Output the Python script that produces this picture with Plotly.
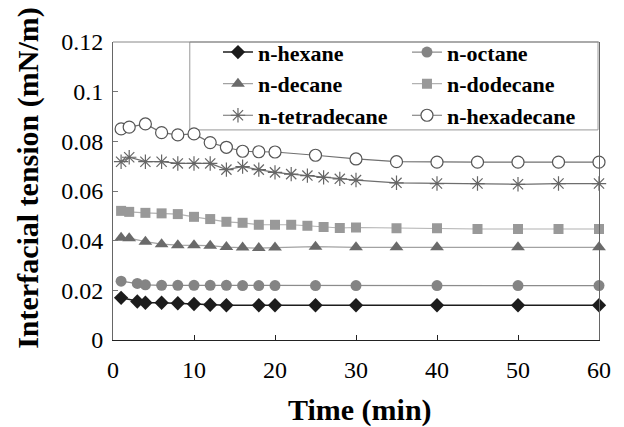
import plotly.graph_objects as go

# ---------------- data ----------------
hexane_t = [1, 3, 4, 6, 8, 10, 12, 14, 18, 20, 25, 30, 40, 50, 60]
hexane = [0.017, 0.0155, 0.015, 0.015, 0.0148, 0.0145, 0.0142, 0.014, 0.014, 0.014,
          0.014, 0.014, 0.014, 0.014, 0.014]

octane_t = [1, 3, 4, 6, 8, 10, 12, 14, 16, 18, 20, 25, 30, 40, 50, 60]
octane = [0.0237, 0.0228, 0.0222, 0.022, 0.022, 0.022, 0.022, 0.022, 0.0219, 0.0219,
          0.0219, 0.0219, 0.0219, 0.0219, 0.0219, 0.0219]

decane_t = [1, 2, 4, 6, 8, 10, 12, 14, 16, 18, 20, 25, 30, 35, 40, 50, 60]
decane = [0.0412, 0.041, 0.0396, 0.0386, 0.0382, 0.0382, 0.038, 0.0374, 0.0372, 0.037,
          0.0372, 0.0376, 0.0373, 0.0373, 0.0373, 0.0373, 0.0373]

dodecane_t = [1, 2, 4, 6, 8, 10, 12, 14, 16, 18, 20, 22, 24, 26, 28, 30, 35, 40, 45, 50, 55, 60]
dodecane = [0.052, 0.0516, 0.0512, 0.051, 0.0507, 0.0496, 0.0487, 0.0476, 0.0472, 0.0464,
            0.0464, 0.0464, 0.046, 0.0455, 0.0451, 0.0453, 0.045, 0.045, 0.0447, 0.0447,
            0.0447, 0.0447]

tetradecane_t = [1, 2, 4, 6, 8, 10, 12, 14, 16, 18, 20, 22, 24, 26, 28, 30, 35, 40, 45, 50, 55, 60]
tetradecane = [0.0718, 0.0736, 0.0718, 0.0718, 0.0711, 0.0711, 0.0711, 0.0686, 0.0698, 0.0686,
               0.0675, 0.0668, 0.0662, 0.0655, 0.0649, 0.0644, 0.0633, 0.063, 0.063, 0.0627,
               0.063, 0.063]

hexadecane_t = [1, 2, 4, 6, 8, 10, 12, 14, 16, 18, 20, 25, 30, 35, 40, 45, 50, 55, 60]
hexadecane = [0.085, 0.0857, 0.087, 0.0835, 0.0826, 0.083, 0.0795, 0.0776, 0.076, 0.0758,
              0.0757, 0.0744, 0.0729, 0.0718, 0.0716, 0.0716, 0.0716, 0.0716, 0.0716]

x_ticks = [0, 10, 20, 30, 40, 50, 60]
y_ticks = [0, 0.02, 0.04, 0.06, 0.08, 0.1, 0.12]
y_ticklabels = ["0", "0.02", "0.04", "0.06", "0.08", "0.1", "0.12"]

# ---------------- figure ----------------
SERIF = "Liberation Serif, Times New Roman, serif"
fig = go.Figure()

series = [
    ("n-hexane", hexane_t, hexane,
     dict(symbol="diamond", size=11, color="#1c1c1c"), dict(color="#1c1c1c", width=1.6)),
    ("n-octane", octane_t, octane,
     dict(symbol="circle", size=11, color="#848484"), dict(color="#8c8c8c", width=1.2)),
    ("n-decane", decane_t, decane,
     dict(symbol="triangle-up", size=12, color="#6a6a6a"), dict(color="#a2a2a2", width=1.2)),
    ("n-dodecane", dodecane_t, dodecane,
     dict(symbol="square", size=10, color="#999999"), dict(color="#b2b2b2", width=1.2)),
    ("n-tetradecane", tetradecane_t, tetradecane,
     dict(symbol="asterisk-open", size=12, color="#666666", line=dict(color="#666666", width=1.2)),
     dict(color="#6e6e6e", width=1.2)),
    ("n-hexadecane", hexadecane_t, hexadecane,
     dict(symbol="circle", size=12, color="white", line=dict(color="#555555", width=1.2)),
     dict(color="#707070", width=1.2)),
]
for name, t, v, mk, ln in series:
    fig.add_trace(go.Scatter(x=t, y=v, name=name, mode="lines+markers",
                             marker=mk, line=ln, cliponaxis=False))

# the page adds an 8px body margin, so the figure is 8px smaller and offsets are reduced by 8
fig.update_layout(
    width=616, height=419,
    margin=dict(l=105, r=25, t=34, b=87),
    paper_bgcolor="white", plot_bgcolor="white",
    font=dict(family=SERIF, color="black"),
    showlegend=True,
    legend=dict(
        orientation="h", entrywidth=144, entrywidthmode="pixels",
        x=0.216, xanchor="left", y=1.036, yanchor="top",
        bgcolor="rgba(0,0,0,0)", borderwidth=0,
        font=dict(family=SERIF, size=22, color="black", weight="bold"),
        tracegroupgap=0,
    ),
    xaxis=dict(
        range=[0, 60], tickvals=x_ticks, ticks="inside", ticklen=5, tickcolor="#222",
        showline=True, linecolor="#222", linewidth=1.3, mirror=False,
        showgrid=False, zeroline=False, ticklabelstandoff=8,
        tickfont=dict(family=SERIF, size=24, color="black"),
    ),
    yaxis=dict(
        range=[0, 0.12], tickvals=y_ticks, ticktext=y_ticklabels, ticks="inside", ticklen=5,
        tickcolor="#777", showline=True, linecolor="#666", linewidth=1, mirror=True,
        showgrid=False, zeroline=False, ticklabelstandoff=4,
        tickfont=dict(family=SERIF, size=24, color="black"),
    ),
    shapes=[
        dict(type="line", xref="paper", yref="paper", x0=0, x1=1, y0=1, y1=1,
             line=dict(color="#888", width=1)),
        dict(type="rect", xref="paper", yref="paper", x0=0.158, x1=0.998, y0=0.705, y1=1,
             line=dict(color="#999", width=1), fillcolor="white", layer="below"),
    ],
    annotations=[
        dict(text="<b>Interfacial tension (mN/m)</b>", xref="paper", yref="paper",
             x=-0.175, y=0.544, textangle=-90, showarrow=False,
             xanchor="center", yanchor="middle",
             font=dict(family=SERIF, size=30, color="black")),
        dict(text="<b>Time (min)</b>", xref="paper", yref="paper",
             x=0.508, y=-0.235, showarrow=False, xanchor="center", yanchor="middle",
             font=dict(family=SERIF, size=30, color="black")),
    ],
)

fig.write_html("out.html")
